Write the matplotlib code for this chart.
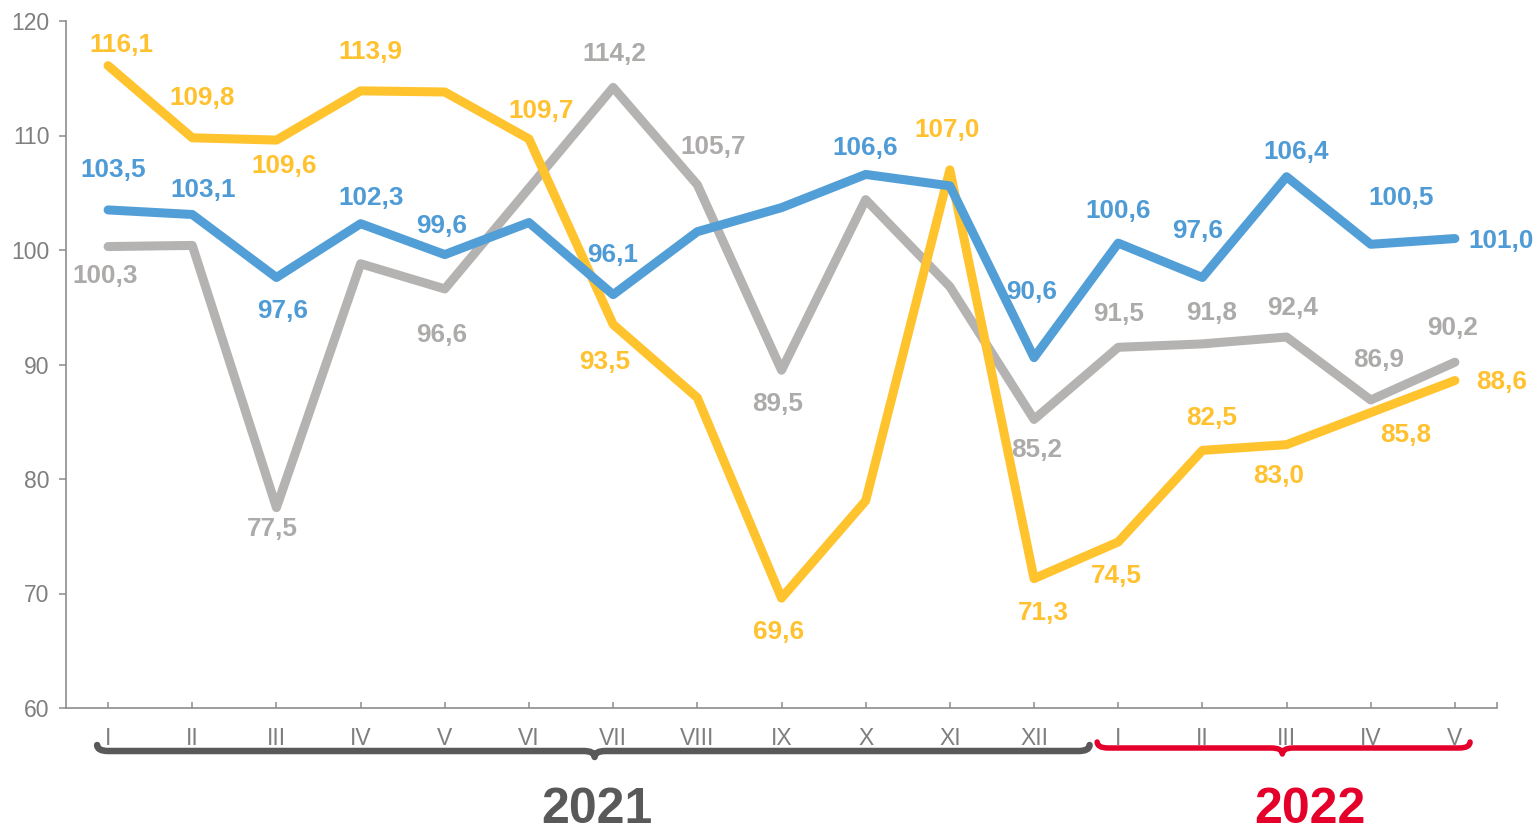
import matplotlib
matplotlib.use("Agg")
import matplotlib.pyplot as plt
from matplotlib.path import Path
from matplotlib.patches import PathPatch
import numpy as np

plt.rcParams['font.family'] = ['Liberation Sans', 'DejaVu Sans']

# ---------------- data ----------------
months = ["I", "II", "III", "IV", "V", "VI", "VII", "VIII", "IX", "X", "XI", "XII",
          "I", "II", "III", "IV", "V"]
blue = [103.5, 103.1, 97.6, 102.3, 99.6, 102.4, 96.1, 101.6, 103.7, 106.6, 105.6, 90.6,
        100.6, 97.6, 106.4, 100.5, 101.0]
yellow = [116.1, 109.8, 109.6, 113.9, 113.8, 109.7, 93.5, 87.1, 69.6, 78.1, 107.0, 71.3,
          74.5, 82.5, 83.0, 85.8, 88.6]
gray = [100.3, 100.4, 77.5, 98.8, 96.6, 105.4, 114.2, 105.7, 89.5, 104.4, 96.8, 85.2,
        91.5, 91.8, 92.4, 86.9, 90.2]
yticks = [60, 70, 80, 90, 100, 110, 120]
years = ["2021", "2022"]

# label placement (pixel offsets of the label centre from the point; None = no label)
blue_lab = [(5, 40), (11, 25), (6, -34), (11, 26), (-3, 29), None, (-1, 40), None, None,
            (0, 26), None, (-2, 66), (0, 32), (-5, 46), (10, 25), (30, 46), (46, -2)]
yellow_lab = [(13, 21), (10, 40), (8, -26), (10, 39), None, (12, 28), (-8, -38), None,
              (-3, -34), None, (-3, 40), (9, -34), (-2, -34), (9, 32), (-8, -31), (35, -22),
              (47, -1)]
gray_lab = [(-3, -29), None, (-4, -21), None, (-3, -46), None, (1, 33), (16, 38),
            (-4, -34), None, None, (3, -31), (0, 33), (9, 31), (6, 29), (8, 40), (-2, 34)]

BLUE_L, BLUE_T = "#529fd7", "#4e9bd5"
YEL_L, YEL_T = "#ffc32e", "#ffc12e"
GRAY_L, GRAY_T = "#b4b3b2", "#acabaa"
AX_C = "#8c8c8c"
TXT_C = "#7f7f7f"

W, H = 1537, 835
fig = plt.figure(figsize=(W / 100, H / 100), dpi=100)
ax = fig.add_axes([66 / W, 1 - 708 / H, (1497 - 66) / W, (708 - 21) / H])

x = np.arange(len(months))
lw = 6.5
series = [(gray, GRAY_L, GRAY_T, gray_lab, 2),
          (yellow, YEL_L, YEL_T, yellow_lab, 3),
          (blue, BLUE_L, BLUE_T, blue_lab, 4)]
for vals, lc, tc, labs, z in series:
    ax.plot(x, vals, color=lc, lw=lw, solid_capstyle='round', solid_joinstyle='round',
            zorder=z, clip_on=False)
for vals, lc, tc, labs, z in series:
    for i, (v, off) in enumerate(zip(vals, labs)):
        if off is None:
            continue
        ax.annotate(f"{v:.1f}".replace(".", ","), (x[i], v), xytext=off,
                    textcoords='offset pixels', ha='center', va='center',
                    fontsize=18.8, fontweight='bold', color=tc, zorder=10,
                    annotation_clip=False)

ax.set_xlim(-0.5, len(months) - 0.5)
ax.set_ylim(60, 120)
ax.set_yticks(yticks)
ax.set_yticklabels([str(t) for t in yticks])
ax.set_xticks(x)
ax.set_xticklabels(months)
ax.set_xticks([len(months) - 0.5], minor=True)

for s in ['top', 'right']:
    ax.spines[s].set_visible(False)
for s in ['left', 'bottom']:
    ax.spines[s].set_color(AX_C)
    ax.spines[s].set_linewidth(1.2)

ax.tick_params(axis='y', direction='out', length=5, width=1.1, color=AX_C,
               labelsize=16.5, labelcolor=TXT_C, pad=7)
ax.tick_params(axis='x', which='both', direction='in', length=4, width=1.1, color=AX_C,
               labelsize=16.5, labelcolor=TXT_C, pad=14)

fig.canvas.draw()


def brace(x0, x1, xc, y_top, color, lw_px, h=6, r=11, d=6):
    X0 = ax.transData.transform((x0, 0))[0]
    X1 = ax.transData.transform((x1, 0))[0]
    Xc = ax.transData.transform((xc, 0))[0]
    Y = H - y_top
    verts = [(X0, Y + h), (X0, Y), (X0 + r, Y), (Xc - r, Y), (Xc, Y), (Xc, Y - d),
             (Xc, Y), (Xc + r, Y), (X1 - r, Y), (X1, Y), (X1, Y + h)]
    codes = [Path.MOVETO, Path.CURVE3, Path.CURVE3, Path.LINETO, Path.CURVE3, Path.CURVE3,
             Path.CURVE3, Path.CURVE3, Path.LINETO, Path.CURVE3, Path.CURVE3]
    p = PathPatch(Path(verts, codes), fill=False, edgecolor=color, lw=lw_px * 0.72,
                  capstyle='round', joinstyle='round', transform=None)
    fig.add_artist(p)


brace(-0.13, 11.66, 5.78, 751, "#595959", 6.5)
brace(11.75, 16.18, 13.95, 748, "#e4002b", 5.5)

fig.text(597 / W, 1 - 823 / H, years[0], ha='center', va='baseline', fontsize=36,
         fontweight='bold', color="#595959")
fig.text(1310 / W, 1 - 823 / H, years[1], ha='center', va='baseline', fontsize=36,
         fontweight='bold', color="#e4002b")

fig.savefig("out.png", dpi=100)
